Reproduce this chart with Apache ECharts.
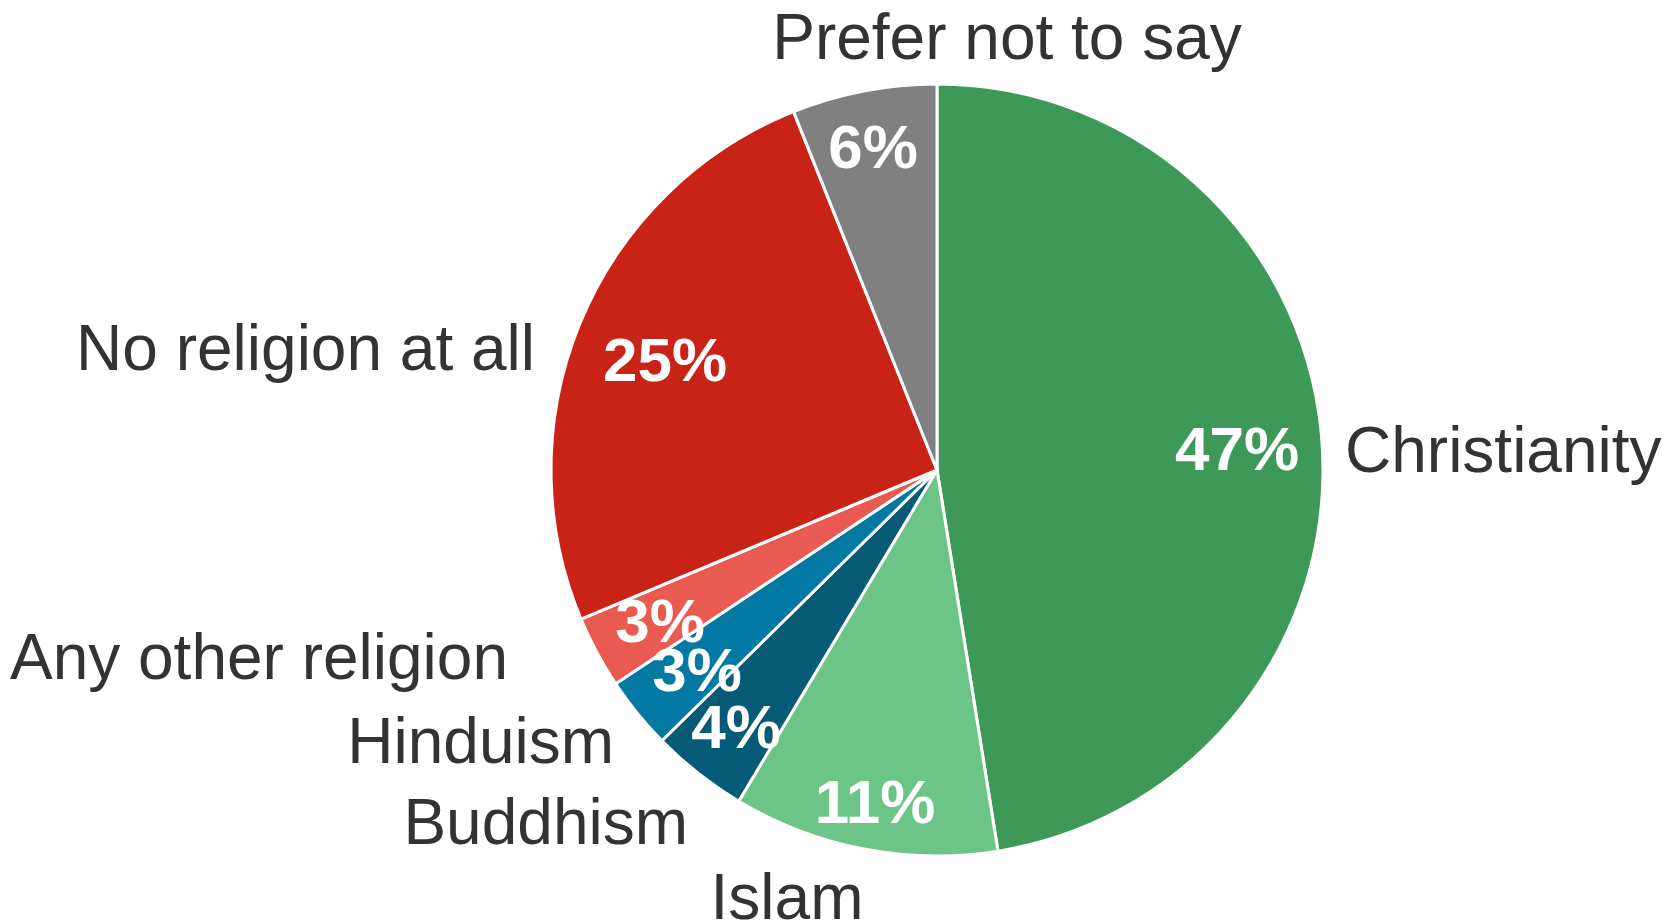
<!DOCTYPE html>
<html>
<head>
<meta charset="utf-8">
<script src="https://cdn.jsdelivr.net/npm/echarts@6/dist/echarts.min.js"></script>
<style>
html,body{margin:0;padding:0;background:#fff;}
#chart{width:1667px;height:922px;}
</style>
</head>
<body>
<div id="chart"></div>
<script>
// ---- data ----
const categories = ['Christianity', 'Islam', 'Buddhism', 'Hinduism', 'Any other religion', 'No religion at all', 'Prefer not to say'];
const shares = [47, 11, 4, 3, 3, 25, 6];
const colors = ['#3e9858', '#6cc486', '#055a75', '#0279a3', '#e95a50', '#c92216', '#808080'];

// ---- label placement (text anchor, px) ----
const nameLabelPlace = [
  {x: 1345, y: 454, align: 'left'},
  {x: 787, y: 901, align: 'center'},
  {x: 688, y: 826, align: 'right'},
  {x: 614, y: 745, align: 'right'},
  {x: 508, y: 661, align: 'right'},
  {x: 535, y: 352, align: 'right'},
  {x: 1007, y: 41, align: 'center'}
];
const valueLabelPlace = [
  {x: 1237, y: 453},
  {x: 875, y: 806},
  {x: 736, y: 731},
  {x: 697, y: 674},
  {x: 660, y: 625},
  {x: 665, y: 364},
  {x: 873, y: 151}
];

const CX = 937, CY = 470, R = 386;
const FONT = '"Liberation Sans", Arial, sans-serif';

const chart = echarts.init(document.getElementById('chart'), null, {renderer: 'canvas'});
const pieData = categories.map((c, i) => ({name: c, value: shares[i], itemStyle: {color: colors[i]}}));

chart.setOption({
  animation: false,
  backgroundColor: '#ffffff',
  series: [
    {
      type: 'pie',
      center: [CX, CY],
      radius: [0, R],
      startAngle: 90,
      clockwise: true,
      avoidLabelOverlap: false,
      silent: true,
      data: pieData,
      itemStyle: {borderColor: '#ffffff', borderWidth: 3},
      label: {
        show: true,
        position: 'outside',
        formatter: '{b}',
        color: '#333333',
        fontFamily: FONT,
        fontSize: 64
      },
      labelLine: {show: false},
      labelLayout: function (p) {
        const s = nameLabelPlace[p.dataIndex];
        return {x: s.x, y: s.y, align: s.align, verticalAlign: 'middle', hideOverlap: false};
      }
    },
    {
      type: 'pie',
      center: [CX, CY],
      radius: [R * 0.58, R],
      startAngle: 90,
      clockwise: true,
      avoidLabelOverlap: false,
      silent: true,
      z: 3,
      data: categories.map((c, i) => ({name: c, value: shares[i]})),
      itemStyle: {color: 'rgba(0,0,0,0)', borderWidth: 0},
      label: {
        show: true,
        position: 'inside',
        formatter: '{c}%',
        color: '#ffffff',
        fontFamily: FONT,
        fontWeight: 'bold',
        fontSize: 62
      },
      labelLine: {show: false},
      labelLayout: function (p) {
        const s = valueLabelPlace[p.dataIndex];
        return {x: s.x, y: s.y, align: 'center', verticalAlign: 'middle', hideOverlap: false};
      }
    }
  ]
});
</script>
</body>
</html>
